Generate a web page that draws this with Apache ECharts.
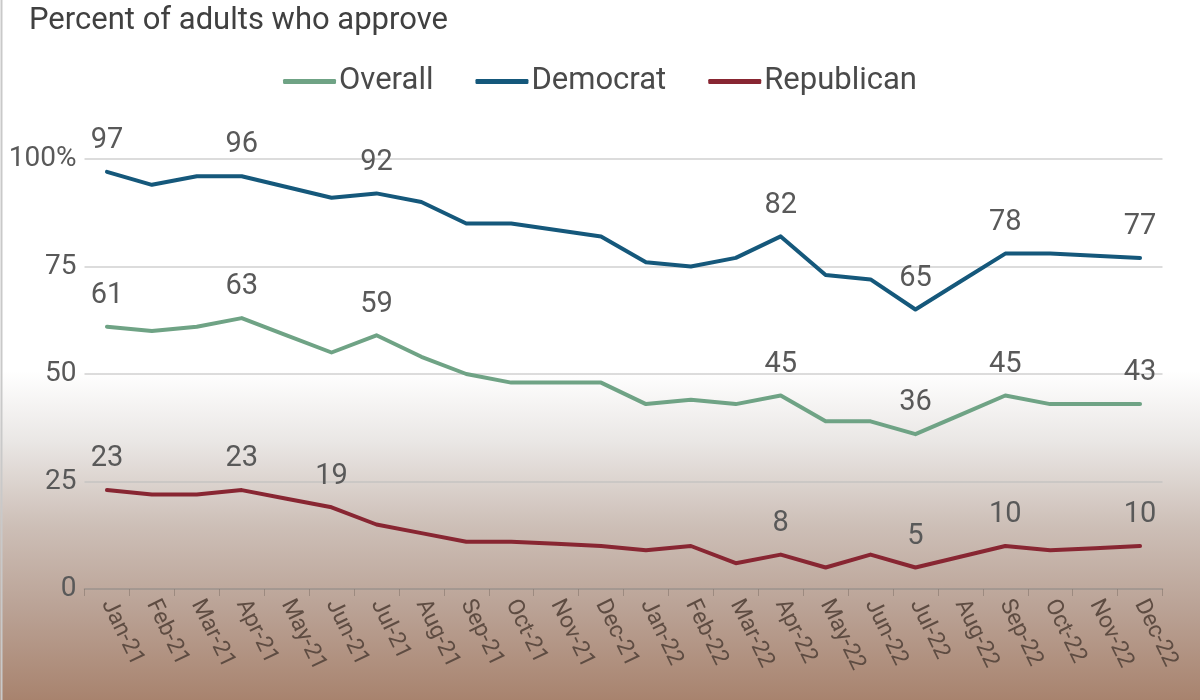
<!DOCTYPE html>
<html>
<head>
<meta charset="utf-8">
<script src="https://cdn.jsdelivr.net/npm/echarts@6/dist/echarts.min.js"></script>
<style>html,body{margin:0;padding:0;background:#fff}#c{width:1200px;height:700px}</style>
</head>
<body>
<div id="c"></div>
<script>
const categories = ['Jan-21','Feb-21','Mar-21','Apr-21','May-21','Jun-21','Jul-21','Aug-21','Sep-21','Oct-21','Nov-21','Dec-21',
  'Jan-22','Feb-22','Mar-22','Apr-22','May-22','Jun-22','Jul-22','Aug-22','Sep-22','Oct-22','Nov-22','Dec-22'];
const overall    = [61,60,61,63,59,55,59,54,50,48,48,48,43,44,43,45,39,39,36,40.5,45,43,43,43];
const democrat   = [97,94,96,96,93.5,91,92,90,85,85,83.5,82,76,75,77,82,73,72,65,71.5,78,78,77.5,77];
const republican = [23,22,22,23,21,19,15,13,11,11,10.5,10,9,10,6,8,5,8,5,7.5,10,9,9.5,10];
const overallLabelIdx    = [0,3,6,15,18,20,23];
const democratLabelIdx   = [0,3,6,15,18,20,23];
const republicanLabelIdx = [0,3,5,15,18,20,23];
const yTicks = [0,25,50,75,100];

const chart = echarts.init(document.getElementById('c'));
const FONT = 'Roboto';
function mk(name, data, color, idx){
  return {
    name, type:'line', data, symbol:'circle', symbolSize:1, showSymbol:true, showAllSymbol:true,
    lineStyle:{color, width:4, cap:'round', join:'round'},
    itemStyle:{color},
    label:{show:true, position:'top', distance:16, fontFamily:FONT, fontSize:29, color:'#595959',
      formatter:p => idx.includes(p.dataIndex) ? String(p.value) : ''},
    labelLayout:{hideOverlap:false}
  };
}
chart.setOption({
  backgroundColor:{type:'linear',x:0,y:0,x2:0,y2:1,colorStops:[
    {offset:0,color:'#ffffff'},{offset:0.53,color:'#ffffff'},{offset:0.63,color:'#eae7e5'},
    {offset:0.75,color:'#cdbfb7'},{offset:0.87,color:'#baa295'},{offset:1,color:'#a8836e'}]},
  animation:false,
  title:{text:'Percent of adults who approve', left:24, top:1,
    textStyle:{fontFamily:FONT, fontSize:31, fontWeight:'normal', color:'#404040'}},
  legend:{top:61, left:'center', itemWidth:53, itemHeight:5, itemGap:42, icon:'roundRect',
    textStyle:{fontFamily:FONT, fontSize:31, color:'#4a4a4a', padding:[0,0,0,-2]},
    data:['Overall','Democrat','Republican']},
  grid:{left:84.5, right:37.5, top:159, bottom:111, containLabel:false},
  xAxis:{type:'category', data:categories, boundaryGap:true,
    axisLine:{lineStyle:{color:'rgba(130,115,105,0.55)', width:1.5}},
    axisTick:{show:true, length:7, lineStyle:{color:'rgba(130,115,105,0.55)'}},
    axisLabel:{interval:0, rotate:-64, margin:12, fontFamily:FONT, fontSize:23, color:'#5e4c42'}},
  yAxis:{type:'value', min:0, max:100, interval:25,
    axisLine:{show:false}, axisTick:{show:false},
    splitLine:{lineStyle:{color:'rgba(190,190,190,0.7)', width:1.5}},
    axisLabel:{margin:8, fontFamily:FONT, fontSize:28, color:'#595959',
      formatter:v => yTicks.includes(v) ? (v===100 ? '100%' : String(v)) : ''}},
  series:[
    mk('Overall', overall, '#6fa385', overallLabelIdx),
    mk('Democrat', democrat, '#15587b', democratLabelIdx),
    mk('Republican', republican, '#882632', republicanLabelIdx)
  ],
  graphic:[{type:'line', shape:{x1:1.5,y1:0,x2:1.5,y2:700}, style:{stroke:'#c9c9c9', lineWidth:2}, silent:true}]
});
</script>
</body>
</html>
